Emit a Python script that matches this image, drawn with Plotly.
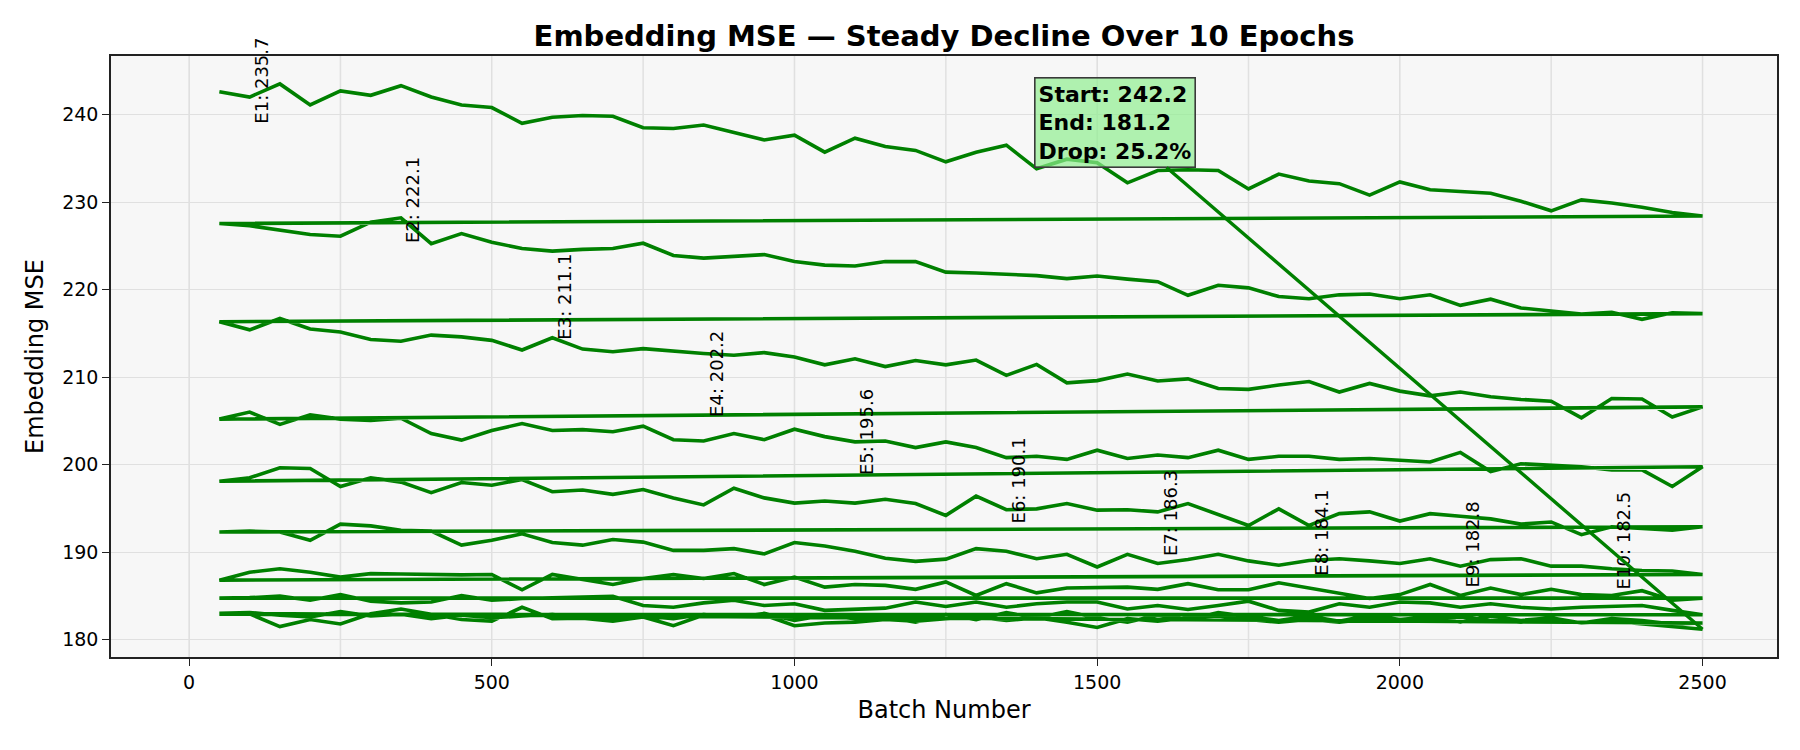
import plotly.graph_objects as go

# ---------------- data ----------------
batches = list(range(50, 2501, 50))

epoch1 = [242.6, 242.0, 243.5, 241.1, 242.7, 242.2, 243.3, 242.0, 241.1, 240.8,
          239.0, 239.7, 239.9, 239.8, 238.5, 238.4, 238.8, 237.9, 237.1, 237.65,
          235.7, 237.3, 236.35, 235.9, 234.6, 235.7, 236.5, 233.8, 234.9, 234.5,
          232.2, 233.6, 233.7, 233.6, 231.5, 233.2, 232.4, 232.1, 230.8, 232.3,
          231.4, 231.2, 231.0, 230.1, 229.0, 230.25, 229.9, 229.4, 228.8, 228.4]
epoch2 = [227.55, 227.3, 226.8, 226.3, 226.1, 227.7, 228.2, 225.25, 226.4, 225.4,
          224.7, 224.4, 224.6, 224.7, 225.3, 223.9, 223.6, 223.85, 224.0, 223.2,
          222.8, 222.7, 223.2, 223.2, 222.0, 221.9, 221.8, 221.6, 221.25, 221.55,
          221.2, 220.9, 219.35, 220.5, 220.2, 219.2, 218.95, 219.4, 219.5, 218.95,
          219.4, 218.2, 218.9, 217.9, 217.55, 217.2, 217.4, 216.6, 217.35, 217.25]
epoch3 = [216.33, 215.4, 216.7, 215.5, 215.15, 214.3, 214.1, 214.8, 214.6, 214.2,
          213.1, 214.5, 213.2, 212.9, 213.25, 212.95, 212.7, 212.5, 212.8, 212.3,
          211.4, 212.1, 211.2, 211.9, 211.4, 211.95, 210.2, 211.45, 209.35, 209.6,
          210.35, 209.55, 209.8, 208.7, 208.6, 209.1, 209.5, 208.3, 209.28, 208.4,
          207.86, 208.3, 207.75, 207.45, 207.25, 205.35, 207.56, 207.5, 205.45, 206.6]
epoch4 = [205.2, 206.0, 204.6, 205.7, 205.2, 205.05, 205.3, 203.55, 202.8, 203.9,
          204.7, 203.9, 204.0, 203.75, 204.4, 202.85, 202.7, 203.55, 202.85, 204.05,
          203.2, 202.6, 202.7, 201.95, 202.6, 201.95, 200.8, 200.95, 200.6, 201.65,
          200.7, 201.1, 200.8, 201.65, 200.6, 200.95, 200.95, 200.6, 200.7, 200.5,
          200.3, 201.4, 199.2, 200.1, 199.9, 199.75, 199.4, 199.4, 197.5, 199.75]
epoch5 = [198.1, 198.5, 199.65, 199.55, 197.5, 198.5, 198.0, 196.8, 197.95, 197.65,
          198.3, 196.9, 197.1, 196.6, 197.15, 196.2, 195.4, 197.3, 196.2, 195.6,
          195.85, 195.6, 196.05, 195.55, 194.2, 196.4, 194.85, 194.95, 195.55, 194.8,
          194.85, 194.6, 195.55, 194.3, 193.05, 194.95, 193.05, 194.4, 194.6, 193.55,
          194.4, 194.1, 193.8, 193.2, 193.45, 192.0, 192.9, 192.7, 192.5, 192.9]
epoch6 = [192.3, 192.4, 192.3, 191.35, 193.2, 193.0, 192.5, 192.4, 190.8, 191.35,
          192.1, 191.1, 190.8, 191.45, 191.15, 190.2, 190.2, 190.4, 189.8, 191.1,
          190.7, 190.1, 189.3, 188.95, 189.2, 190.4, 190.1, 189.25, 189.75, 188.3,
          189.75, 188.7, 189.15, 189.75, 189.0, 188.5, 189.05, 189.25, 189.0, 188.7,
          189.25, 188.4, 189.15, 189.25, 188.4, 188.4, 188.1, 187.9, 187.85, 187.45]
epoch7 = [186.8, 187.7, 188.1, 187.7, 187.15, 187.55, 187.5, 187.4, 187.4, 187.45,
          185.7, 187.45, 186.9, 186.3, 187.0, 187.45, 187.0, 187.55, 186.3, 187.15,
          186.0, 186.3, 186.2, 185.75, 186.6, 185.05, 186.4, 185.35, 185.9, 185.9,
          186.0, 185.75, 186.4, 185.7, 185.7, 186.5, 185.9, 185.25, 184.7, 185.15,
          186.3, 185.05, 185.9, 185.15, 185.75, 185.15, 185.05, 185.6, 184.5, 184.75]
epoch8 = [184.75, 184.8, 184.97, 184.5, 185.15, 184.4, 184.2, 184.3, 185.05, 184.5,
          184.7, 184.75, 184.85, 184.95, 183.9, 183.7, 184.2, 184.5, 183.9, 184.1,
          183.35, 183.45, 183.6, 184.3, 183.8, 184.3, 183.7, 184.1, 184.3, 184.3,
          183.5, 183.9, 183.45, 183.9, 184.4, 183.35, 183.15, 184.1, 183.7, 184.3,
          184.2, 183.7, 184.1, 183.7, 183.5, 183.7, 183.8, 183.9, 183.35, 182.85]
epoch9 = [182.9, 182.95, 181.5, 182.3, 181.8, 182.95, 183.5, 182.95, 182.3, 182.1,
          183.7, 182.4, 182.45, 182.1, 182.6, 181.6, 182.8, 182.6, 183.0, 182.2,
          182.8, 182.4, 182.6, 182.0, 182.9, 182.3, 183.1, 182.5, 183.2, 182.5,
          182.0, 182.8, 182.3, 183.1, 182.6, 182.2, 182.7, 182.1, 182.8, 182.3,
          182.6, 182.0, 182.7, 182.2, 182.5, 181.9, 182.4, 182.2, 181.8, 181.9]
epoch10 = [183.0, 183.1, 182.8, 182.6, 183.2, 182.7, 182.9, 182.4, 182.8, 182.5,
           182.7, 182.9, 182.6, 182.3, 182.7, 182.4, 182.9, 182.6, 182.8, 181.6,
           181.9, 182.0, 182.3, 182.1, 182.4, 182.6, 182.2, 182.5, 182.0, 181.4,
           182.4, 182.1, 182.5, 182.7, 182.3, 182.0, 182.3, 182.0, 182.4, 182.1,
           182.4, 182.6, 182.2, 182.0, 182.3, 181.9, 182.1, 181.8, 181.6, 181.2]

epochs = [epoch1, epoch2, epoch3, epoch4, epoch5,
          epoch6, epoch7, epoch8, epoch9, epoch10]
epoch_names = ["E1", "E2", "E3", "E4", "E5", "E6", "E7", "E8", "E9", "E10"]
epoch_means = [235.7, 222.1, 211.1, 202.2, 195.6, 190.1, 186.3, 184.1, 182.8, 182.5]
epoch_label_x = [120, 370, 620, 870, 1120, 1370, 1620, 1870, 2120, 2370]
epoch_bounds = [0, 250, 500, 750, 1000, 1250, 1500, 1750, 2000, 2250, 2500]

start_val = 242.2
end_val = 181.2
drop_pct = 25.2

x_ticks = [0, 500, 1000, 1500, 2000, 2500]
y_ticks = [180, 190, 200, 210, 220, 230, 240]

# ---------------- figure ----------------
FONT = "DejaVu Sans"
all_x, all_y = [], []
for ep in epochs:
    all_x += batches
    all_y += ep

fig = go.Figure()
fig.add_trace(go.Scatter(x=all_x, y=all_y, mode="lines",
                         line=dict(color="#008000", width=3.6),
                         showlegend=False, hoverinfo="x+y"))

shapes = []
for b in epoch_bounds:
    shapes.append(dict(type="line", xref="x", yref="y domain", x0=b, x1=b, y0=0, y1=1,
                       line=dict(color="rgba(160,160,160,0.25)", width=1.5), layer="below"))

annotations = []
for name, m, lx in zip(epoch_names, epoch_means, epoch_label_x):
    annotations.append(dict(x=lx, y=m + 3, xref="x", yref="y", text=f"{name}: {m:.1f}",
                            textangle=-90, showarrow=False, xanchor="center", yanchor="bottom",
                            font=dict(family=FONT, size=18, color="black")))

annotations.append(dict(
    x=2500, y=end_val, xref="x", yref="y",
    ax=1529, ay=239.06, axref="x", ayref="y",
    text=f"<b>Start: {start_val:.1f}<br>End: {end_val:.1f}<br>Drop: {drop_pct:.1f}%</b>",
    align="left", showarrow=True, arrowhead=0, arrowwidth=3.4, arrowcolor="#008000",
    bgcolor="rgba(144,238,144,0.7)", bordercolor="#3a3a3a", borderwidth=1.6, borderpad=3,
    font=dict(family=FONT, size=22, color="black")))

fig.update_layout(
    width=1800, height=750,
    margin=dict(l=111, r=23, t=56, b=93),
    paper_bgcolor="white", plot_bgcolor="#f7f7f7",
    font=dict(family=FONT, color="black"),
    title=dict(text="<b>Embedding MSE — Steady Decline Over 10 Epochs</b>",
               x=0.5, xref="paper", y=1 - 36 / 750, yref="container",
               xanchor="center", yanchor="middle",
               font=dict(family=FONT, size=29, color="black")),
    shapes=shapes, annotations=annotations,
)
fig.update_xaxes(range=[-129, 2623], tickvals=x_ticks, ticks="outside", ticklen=7,
                 tickwidth=1.3, tickcolor="#222", showline=True, mirror=True,
                 linecolor="#222", linewidth=1.6, showgrid=True, gridcolor="#e0e0e0",
                 gridwidth=1.3, zeroline=False,
                 tickfont=dict(family=FONT, size=19, color="black"),
                 title=dict(text="Batch Number", font=dict(family=FONT, size=24), standoff=10))
fig.update_yaxes(range=[178.02, 246.69], tickvals=y_ticks, ticks="outside", ticklen=7,
                 tickwidth=1.3, tickcolor="#222", showline=True, mirror=True,
                 linecolor="#222", linewidth=1.6, showgrid=True, gridcolor="#e0e0e0",
                 gridwidth=1.3, zeroline=False,
                 tickfont=dict(family=FONT, size=19, color="black"),
                 title=dict(text="Embedding MSE", font=dict(family=FONT, size=24), standoff=12))

fig.write_html("out.html")
